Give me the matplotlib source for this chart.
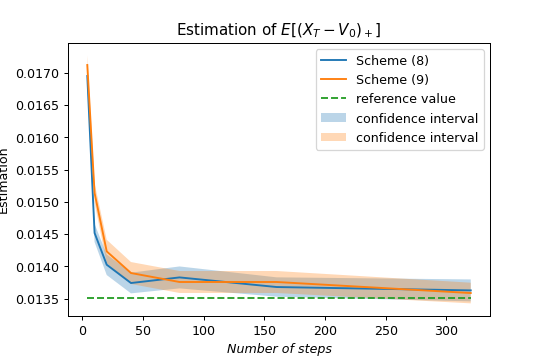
import numpy as np
import matplotlib
matplotlib.use("Agg")
import matplotlib.pyplot as plt

# number of time steps
steps = np.array([4, 10, 20, 40, 80, 160, 320])

# estimates for the two schemes
est_8 = np.array([0.01695, 0.014518, 0.014027, 0.013743, 0.013830, 0.013681, 0.013629])
est_9 = np.array([0.01712, 0.015137, 0.014233, 0.013898, 0.013759, 0.013759, 0.013588])

# half widths of the confidence intervals
ci_8 = np.array([0.00012, 0.00014, 0.00016, 0.00016, 0.00017, 0.00015, 0.00017])
ci_9 = np.array([0.00015, 0.00015, 0.00018, 0.00017, 0.00017, 0.00017, 0.00016])

ref_value = 0.013511


def run():
    fig = plt.figure(figsize=(6, 4), dpi=90.83)
    fig.subplots_adjust(left=0.125, right=0.899, bottom=0.13, top=0.881)

    plt.plot(steps, est_8, label="Scheme (8)")
    plt.plot(steps, est_9, label="Scheme (9)")
    plt.plot(steps, ref_value * np.ones(len(steps)), "--", label="reference value")
    plt.fill_between(steps, est_8 - ci_8, est_8 + ci_8, alpha=0.3,
                     label="confidence interval")
    plt.fill_between(steps, est_9 - ci_9, est_9 + ci_9, alpha=0.3,
                     label="confidence interval")

    plt.title(r"Estimation of $E[(X_T - V_0)_+]$")
    plt.xlabel("Number of steps", style="italic")
    plt.ylabel("Estimation")
    plt.legend(loc="upper right")
    plt.savefig("out.png", dpi=90.83)


run()
